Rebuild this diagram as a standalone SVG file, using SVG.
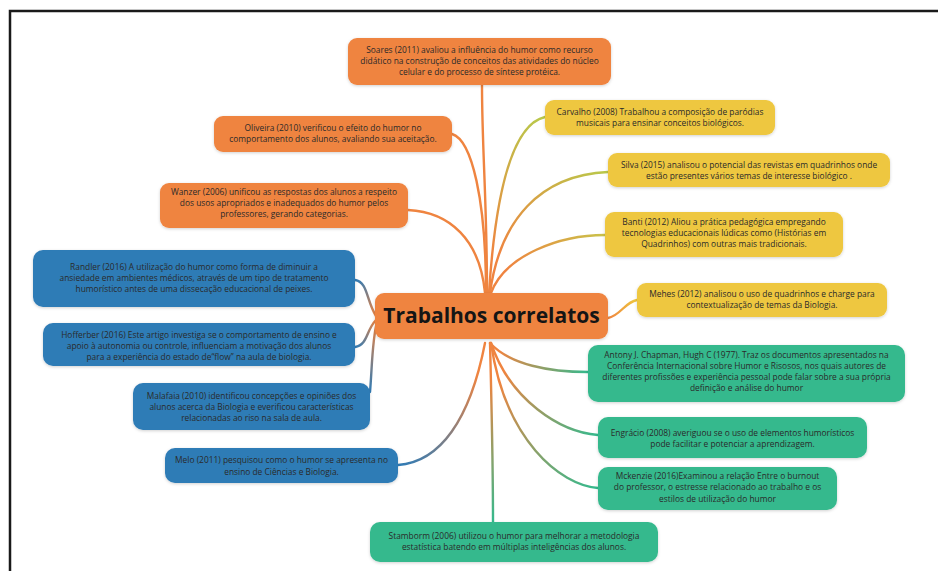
<svg xmlns="http://www.w3.org/2000/svg" width="938" height="571" viewBox="0 0 938 571">
<style>
.t{font-family:"Open Sans","Liberation Sans",sans-serif;font-size:8.4px;fill:#2a2a2a;text-anchor:middle}
.c{font-family:"Open Sans","Liberation Sans",sans-serif;font-size:21px;font-weight:bold;fill:#151515;text-anchor:middle}
.or{fill:#EF8440}
.bl{fill:#2F7BB6}
.ye{fill:#EEC73F}
.gr{fill:#35B98D}
.ln{fill:none;stroke-linecap:round;stroke-width:2.4}
</style>
<defs>
<filter id="sh" x="-10%" y="-20%" width="120%" height="150%">
<feDropShadow dx="0" dy="1" stdDeviation="1.5" flood-color="#000" flood-opacity="0.18"/>
</filter>
<linearGradient id="gY1" gradientUnits="userSpaceOnUse" x1="489" y1="293" x2="545" y2="117"><stop offset="0.2" stop-color="#EF8440"/><stop offset="1" stop-color="#B9C84A"/></linearGradient>
<linearGradient id="gY2" gradientUnits="userSpaceOnUse" x1="490" y1="293" x2="608" y2="172"><stop offset="0.2" stop-color="#EF8440"/><stop offset="1" stop-color="#B9C84A"/></linearGradient>
<linearGradient id="gY3" gradientUnits="userSpaceOnUse" x1="491" y1="293" x2="605" y2="235"><stop offset="0.2" stop-color="#EF8440"/><stop offset="1" stop-color="#C9C24A"/></linearGradient>
<linearGradient id="gY4" gradientUnits="userSpaceOnUse" x1="608" y1="318" x2="637" y2="300"><stop offset="0" stop-color="#EF8440"/><stop offset="1" stop-color="#EEC73F"/></linearGradient>
<linearGradient id="gB1" gradientUnits="userSpaceOnUse" x1="376" y1="316" x2="355" y2="280"><stop offset="0" stop-color="#EF8440"/><stop offset="1" stop-color="#2F7BB6"/></linearGradient>
<linearGradient id="gB2" gradientUnits="userSpaceOnUse" x1="376" y1="320" x2="355" y2="347"><stop offset="0" stop-color="#EF8440"/><stop offset="1" stop-color="#2F7BB6"/></linearGradient>
<linearGradient id="gB3" gradientUnits="userSpaceOnUse" x1="377" y1="322" x2="370" y2="392"><stop offset="0" stop-color="#EF8440"/><stop offset="1" stop-color="#2F7BB6"/></linearGradient>
<linearGradient id="gB4" gradientUnits="userSpaceOnUse" x1="485" y1="343" x2="398" y2="465"><stop offset="0.2" stop-color="#EF8440"/><stop offset="1" stop-color="#2F7BB6"/></linearGradient>
<linearGradient id="gG1" gradientUnits="userSpaceOnUse" x1="490" y1="343" x2="588" y2="372"><stop offset="0.1" stop-color="#EF8440"/><stop offset="1" stop-color="#35B98D"/></linearGradient>
<linearGradient id="gG2" gradientUnits="userSpaceOnUse" x1="491" y1="343" x2="598" y2="435"><stop offset="0.2" stop-color="#EF8440"/><stop offset="1" stop-color="#35B98D"/></linearGradient>
<linearGradient id="gG3" gradientUnits="userSpaceOnUse" x1="491" y1="343" x2="598" y2="488"><stop offset="0.2" stop-color="#EF8440"/><stop offset="1" stop-color="#35B98D"/></linearGradient>
<linearGradient id="gG4" gradientUnits="userSpaceOnUse" x1="490" y1="343" x2="493" y2="522"><stop offset="0.2" stop-color="#EF8440"/><stop offset="1" stop-color="#35B98D"/></linearGradient>
</defs>
<rect x="0" y="0" width="938" height="571" fill="#ffffff"/>
<path d="M10,571 V11 H938" fill="none" stroke="#1a1a1a" stroke-width="2.5"/>

<g id="connectors">
<path class="ln" stroke="#EF8440" d="M487,293 C487,200 482,150 482,85"/>
<path class="ln" stroke="#EF8440" d="M486,293 C486,200 472,140 452,134"/>
<path class="ln" stroke="#EF8440" d="M485,293 C480,240 450,212 408,210"/>
<path class="ln" stroke="url(#gY1)" d="M489,293 C495,200 510,125 545,117"/>
<path class="ln" stroke="url(#gY2)" d="M490,293 C500,220 540,175 608,172"/>
<path class="ln" stroke="url(#gY3)" d="M491,293 C505,255 560,235 605,235"/>
<path class="ln" stroke="url(#gB1)" d="M376,316 C366,300 368,282 355,280"/>
<path class="ln" stroke="url(#gB2)" d="M376,320 C366,330 368,345 355,347"/>
<path class="ln" stroke="url(#gB3)" d="M377,322 C372,340 372,370 370,392"/>
<path class="ln" stroke="url(#gB4)" d="M485,343 C470,420 440,462 398,465"/>
<path class="ln" stroke="url(#gY4)" d="M608,318 C620,316 625,302 637,300"/>
<path class="ln" stroke="url(#gG1)" d="M490,343 C510,365 550,372 588,372"/>
<path class="ln" stroke="url(#gG2)" d="M491,343 C510,400 560,432 598,435"/>
<path class="ln" stroke="url(#gG3)" d="M491,343 C505,440 560,485 598,488"/>
<path class="ln" stroke="url(#gG4)" d="M490,343 C492,420 493,470 493,522"/>
</g>

<g id="center">
<rect class="or" x="375" y="293" width="233" height="46" rx="9" filter="url(#sh)"/>
<text class="c" x="491.5" y="323">Trabalhos correlatos</text>
</g>

<g id="soares">
<rect class="or" x="348" y="38" width="263" height="47" rx="9" filter="url(#sh)"/>
<text class="t" x="479.5" y="53">Soares (2011) avaliou a influência do humor como recurso</text>
<text class="t" x="479.5" y="64">didático na construção de conceitos das atividades do núcleo</text>
<text class="t" x="479.5" y="75">celular e do processo de síntese protéica.</text>
</g>
<g id="oliveira">
<rect class="or" x="214" y="116" width="238" height="36" rx="9" filter="url(#sh)"/>
<text class="t" x="333" y="131">Oliveira (2010) verificou o efeito do humor no</text>
<text class="t" x="333" y="142">comportamento dos alunos, avaliando sua aceitação.</text>
</g>
<g id="wanzer">
<rect class="or" x="160" y="183" width="248" height="45" rx="9" filter="url(#sh)"/>
<text class="t" x="284" y="195">Wanzer (2006) unificou as respostas dos alunos a respeito</text>
<text class="t" x="284" y="206">dos usos apropriados e inadequados do humor pelos</text>
<text class="t" x="284" y="217">professores, gerando categorias.</text>
</g>

<g id="carvalho">
<rect class="ye" x="545" y="100" width="230" height="35" rx="9" filter="url(#sh)"/>
<text class="t" x="660" y="115">Carvalho (2008) Trabalhou a composição de paródias</text>
<text class="t" x="660" y="126">musicais para ensinar conceitos biológicos.</text>
</g>
<g id="silva">
<rect class="ye" x="608" y="153" width="282" height="34" rx="9" filter="url(#sh)"/>
<text class="t" x="749" y="168">Silva (2015) analisou o potencial das revistas em quadrinhos onde</text>
<text class="t" x="749" y="179">estão presentes vários temas de interesse biológico .</text>
</g>
<g id="banti">
<rect class="ye" x="605" y="212" width="238" height="45" rx="9" filter="url(#sh)"/>
<text class="t" x="724" y="225">Banti (2012) Aliou a prática pedagógica empregando</text>
<text class="t" x="724" y="236">tecnologias educacionais lúdicas como (Histórias em</text>
<text class="t" x="724" y="247">Quadrinhos) com outras mais tradicionais.</text>
</g>
<g id="mehes">
<rect class="ye" x="637" y="283" width="250" height="34" rx="9" filter="url(#sh)"/>
<text class="t" x="762" y="297">Mehes (2012) analisou o uso de quadrinhos e charge para</text>
<text class="t" x="762" y="308">contextualização de temas da Biologia.</text>
</g>

<g id="randler">
<rect class="bl" x="33" y="250" width="322" height="57" rx="10" filter="url(#sh)"/>
<text class="t" x="194" y="270">Randler (2016) A utilização do humor como forma de diminuir a</text>
<text class="t" x="194" y="281">ansiedade em ambientes médicos, através de um tipo de tratamento</text>
<text class="t" x="194" y="292">humorístico antes de uma dissecação educacional de peixes.</text>
</g>
<g id="hofferber">
<rect class="bl" x="43" y="323" width="312" height="43" rx="10" filter="url(#sh)"/>
<text class="t" x="199" y="338">Hofferber (2016) Este artigo investiga se o comportamento de ensino e</text>
<text class="t" x="199" y="349">apoio à autonomia ou controle, influenciam a motivação dos alunos</text>
<text class="t" x="199" y="360">para a experiência do estado de“flow” na aula de biologia.</text>
</g>
<g id="malafaia">
<rect class="bl" x="133" y="383" width="237" height="47" rx="10" filter="url(#sh)"/>
<text class="t" x="251.5" y="399">Malafaia (2010) identificou concepções e opiniões dos</text>
<text class="t" x="251.5" y="410">alunos acerca da Biologia e everificou características</text>
<text class="t" x="251.5" y="421">relacionadas ao riso na sala de aula.</text>
</g>
<g id="melo">
<rect class="bl" x="165" y="448" width="233" height="35" rx="10" filter="url(#sh)"/>
<text class="t" x="281.5" y="463">Melo (2011) pesquisou como o humor se apresenta no</text>
<text class="t" x="281.5" y="475">ensino de Ciências e Biologia.</text>
</g>

<g id="antony">
<rect class="gr" x="588" y="345" width="317" height="57" rx="10" filter="url(#sh)"/>
<text class="t" x="746.5" y="358">Antony J. Chapman, Hugh C (1977). Traz os documentos apresentados na</text>
<text class="t" x="746.5" y="369">Conferência Internacional sobre Humor e Risosos, nos quais autores de</text>
<text class="t" x="746.5" y="380">diferentes profissões e experiência pessoal pode falar sobre a sua própria</text>
<text class="t" x="746.5" y="391">definição e análise do humor</text>
</g>
<g id="engracio">
<rect class="gr" x="598" y="417" width="269" height="41" rx="10" filter="url(#sh)"/>
<text class="t" x="732.5" y="436">Engrácio (2008) averiguou se o uso de elementos humorísticos</text>
<text class="t" x="732.5" y="447">pode facilitar e potenciar a aprendizagem.</text>
</g>
<g id="mckenzie">
<rect class="gr" x="598" y="467" width="239" height="43" rx="10" filter="url(#sh)"/>
<text class="t" x="717.5" y="479">Mckenzie (2016)Examinou a relação Entre o burnout</text>
<text class="t" x="717.5" y="490">do professor, o estresse relacionado ao trabalho e os</text>
<text class="t" x="717.5" y="502">estilos de utilização do humor</text>
</g>
<g id="stamborm">
<rect class="gr" x="370" y="522" width="288" height="40" rx="10" filter="url(#sh)"/>
<text class="t" x="514" y="539">Stamborm (2006) utilizou o humor para melhorar a metodologia</text>
<text class="t" x="514" y="550">estatística batendo em múltiplas inteligências dos alunos.</text>
</g>
</svg>
